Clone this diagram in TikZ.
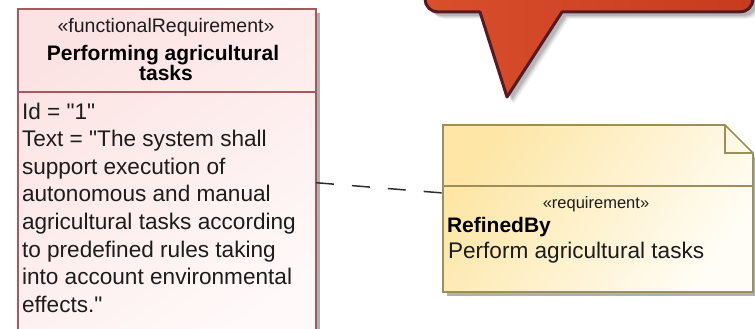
\documentclass[tikz,border=0pt]{standalone}
\usepackage{fontspec}
\setmainfont{Liberation Sans}[Ligatures=TeXOff]
\usetikzlibrary{calc}

\definecolor{reqline}{HTML}{A8585C}
\definecolor{reqfillA}{HTML}{FCE3E3}
\definecolor{reqfillB}{HTML}{FFF9F9}
\definecolor{noteline}{HTML}{9C8F5A}
\definecolor{notefillA}{HTML}{FDE6A6}
\definecolor{notefillB}{HTML}{FFFDF5}
\definecolor{calloutA}{HTML}{D94F2C}
\definecolor{calloutB}{HTML}{C73B1E}
\definecolor{calloutline}{HTML}{571A24}
\definecolor{shadowgray}{HTML}{B0B0B0}
\definecolor{dashgray}{HTML}{2E2E2E}
\definecolor{inkgray}{HTML}{1C1C1C}

\begin{document}
\begin{tikzpicture}[x=1pt,y=-1pt,
  every node/.style={inner sep=0pt,outer sep=0pt,text=inkgray},
  reqbox/.style={draw=reqline,line width=1.6pt,top color=reqfillA,bottom color=reqfillB,
    shading angle=35,minimum width=298pt,minimum height=340pt,anchor=north west},
  notebox/.style={minimum width=310pt,minimum height=167pt,anchor=north west},
  stereoL/.style={font=\fontsize{19.5}{22}\selectfont,anchor=base},
  stereoR/.style={font=\fontsize{16.5}{19}\selectfont,anchor=base},
  titletext/.style={font=\fontsize{21}{20}\selectfont\bfseries,anchor=base,text=black},
  bodytext/.style={font=\fontsize{22.6}{27.6}\selectfont,anchor=base west},
  refine/.style={draw=dashgray,line width=1.5pt,dash pattern=on 18pt off 18pt},
]
\useasboundingbox (0,0) rectangle (755,329);
\clip (0,0) rectangle (755,329);

% ---- callout at the top (soft shadow, then the shape) ----
\def\calloutshape{(425,-40) -- (425,-1) .. controls (425,6.2) and (430.8,12) .. (438,12)
  -- (480,12) -- (507,97) -- (562,12) -- (740,12)
  .. controls (747.2,12) and (753,6.2) .. (753,-1) -- (753,-40) -- cycle}
\foreach \s/\o in {7/0.05,6/0.07,5/0.09,4/0.11}{
  \fill[black,opacity=\o,line join=round] [shift={(\s,\s)}] \calloutshape;
}
\path[left color=calloutA,right color=calloutB,draw=calloutline,line width=3pt,
  line join=round] \calloutshape;

% ---- functional requirement block ----
\fill[shadowgray] (20,13) rectangle (320,345);
\node[reqbox] (req) at (18,9) {};
\coordinate (sepL) at (req.west |- 0,92);
\coordinate (sepR) at (req.east |- 0,92);
\draw[reqline,line width=1.6pt] (sepL) -- (sepR);

\node[stereoL] (reqst) at (166,33) {«functionalRequirement»};
\node[titletext] (reqt1) at (163,61) {Performing agricultural};
\node[titletext] (reqt2) at (166,81) {tasks};

\node[bodytext] (b1) at (22,119) {Id = "1"};
\node[bodytext] (b2) at (22,146.6) {Text = "The system shall};
\node[bodytext] (b3) at (22,174.2) {support execution of};
\node[bodytext] (b4) at (22,201.8) {autonomous and manual};
\node[bodytext] (b5) at (22,229.4) {agricultural tasks according};
\node[bodytext] (b6) at (22,257) {to predefined rules taking};
\node[bodytext] (b7) at (22,284.6) {into account environmental};
\node[bodytext] (b8) at (22,312.2) {effects."};

% ---- requirement note with folded corner ----
\node[notebox] (note) at (443,125) {};
\fill[shadowgray] ($(note.south west)+(4,0)$) rectangle ($(note.south east)+(4,4)$);
\fill[shadowgray] ($(note.north east)+(0,32)$) rectangle ($(note.south east)+(4,4)$);
\path[draw=noteline,line width=1.6pt,top color=notefillA,bottom color=notefillB,
  shading angle=55,line join=miter]
  (note.north west) -- ($(note.north east)+(-28,0)$) -- ($(note.north east)+(0,28)$)
  -- (note.south east) -- (note.south west) -- cycle;
\draw[noteline,line width=1.6pt] ($(note.north east)+(-28,0)$) -- ($(note.north east)+(-28,28)$)
  -- ($(note.north east)+(0,28)$);
\coordinate (nsepL) at (note.west |- 0,186);
\coordinate (nsepR) at (note.east |- 0,186);
\draw[noteline,line width=1.6pt] (nsepL) -- (nsepR);

\node[stereoR] (notest) at (596,208) {«requirement»};
\node[titletext,anchor=base west] (notet) at (447,232) {RefinedBy};
\node[bodytext] (notebody) at (448,258) {Perform agricultural tasks};

% ---- refinement link ----
\draw[refine] (req.east |- 0,182.7) -- (note.west |- 0,193);
\end{tikzpicture}
\end{document}
